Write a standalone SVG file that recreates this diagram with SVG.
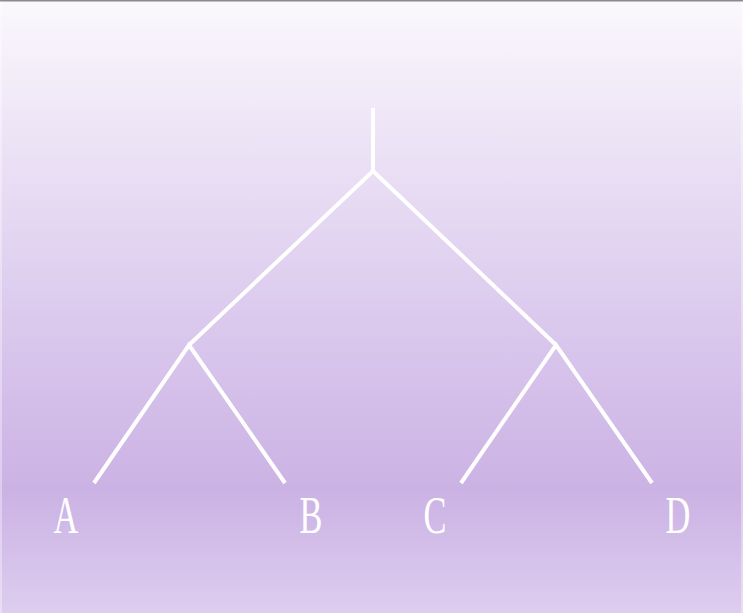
<svg xmlns="http://www.w3.org/2000/svg" width="743" height="613" viewBox="0 0 743 613">
<defs>
<linearGradient id="bg" x1="0" y1="0" x2="0" y2="1">
<stop offset="0" stop-color="#fbf8fd"/>
<stop offset="0.12" stop-color="#f3edf9"/>
<stop offset="0.5" stop-color="#dccbee"/>
<stop offset="0.8" stop-color="#cbb2e4"/>
<stop offset="1" stop-color="#ddcdef"/>
</linearGradient>
</defs>
<style>
.edge{stroke:#ffffff;stroke-width:4;fill:none;stroke-linecap:butt;stroke-linejoin:miter}
.lbl{font-size:52px;fill:#ffffff;text-anchor:middle}
</style>
<rect x="0" y="0" width="743" height="613" fill="url(#bg)"/>
<rect x="0" y="0" width="743" height="1.5" fill="#8a8a8a"/>
<rect x="0" y="1.5" width="2" height="611.5" fill="#ffffff" opacity="0.35"/>
<rect x="741" y="1.5" width="2" height="611.5" fill="#ffffff" opacity="0.35"/>
<g id="connectors">
<line class="edge" x1="373" y1="108" x2="373" y2="171"/>
<polyline class="edge" points="189,345 373,171 556,345"/>
<polyline class="edge" points="94,483 189,345 285,483"/>
<polyline class="edge" points="461,483 556,345 652,483"/>
</g>
<g id="node-A"><text class="lbl" font-family="Liberation Serif, DejaVu Serif, serif" transform="translate(66,533) scale(0.66,1)">A</text></g>
<g id="node-B"><text class="lbl" font-family="Liberation Serif, DejaVu Serif, serif" transform="translate(311,533) scale(0.66,1)">B</text></g>
<g id="node-C"><text class="lbl" font-family="Liberation Serif, DejaVu Serif, serif" transform="translate(435,533) scale(0.66,1)">C</text></g>
<g id="node-D"><text class="lbl" font-family="Liberation Serif, DejaVu Serif, serif" transform="translate(678,533) scale(0.66,1)">D</text></g>
</svg>
